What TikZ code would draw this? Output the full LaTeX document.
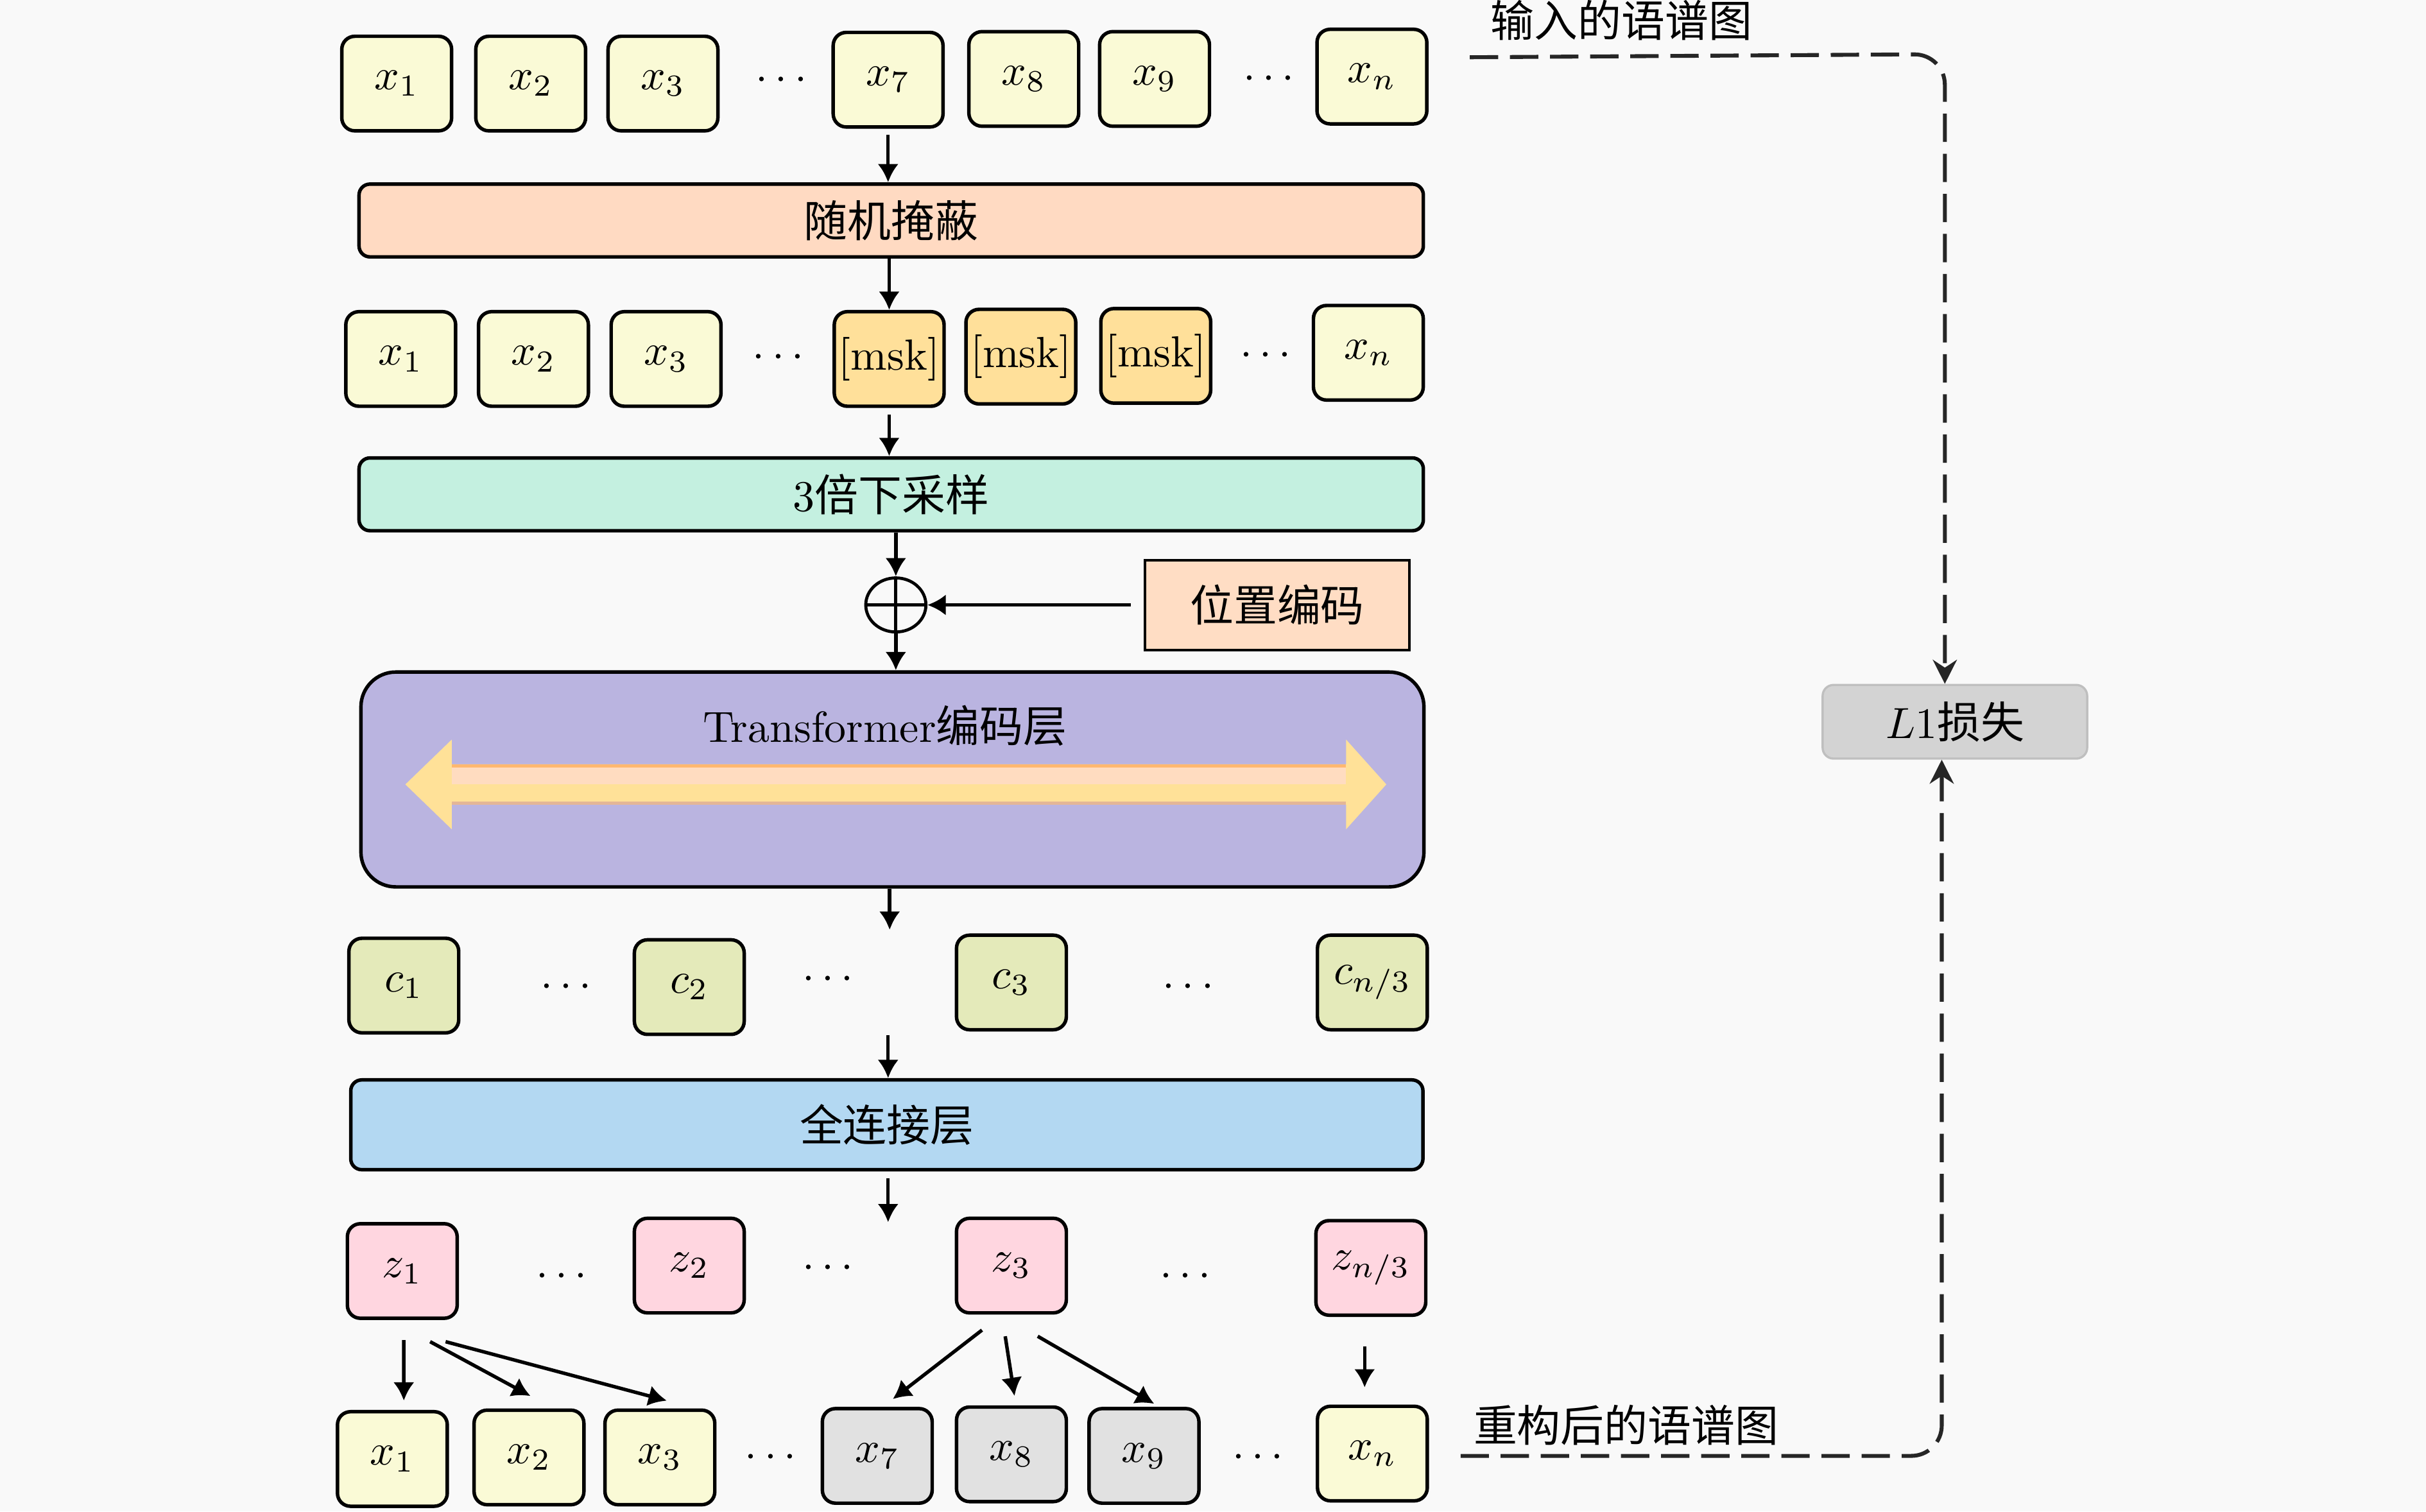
\documentclass[tikz,border=0pt]{standalone}
\usepackage{fontspec}
\newfontfamily\zhfont{Noto Sans CJK SC}
\usepackage{xcolor}
\usetikzlibrary{arrows.meta, shapes.geometric, calc}

\definecolor{bgGray}{RGB}{249,249,249}
\definecolor{tokYellow}{RGB}{250,250,214}
\definecolor{mskOrange}{RGB}{255,224,154}
\definecolor{maskPeach}{RGB}{255,218,194}
\definecolor{downMint}{RGB}{196,240,224}
\definecolor{posPeach}{RGB}{255,221,196}
\definecolor{encPurple}{RGB}{186,180,224}
\definecolor{cOlive}{RGB}{228,234,186}
\definecolor{fcBlue}{RGB}{179,216,242}
\definecolor{zPink}{RGB}{255,214,224}
\definecolor{recGray}{RGB}{225,225,225}
\definecolor{lossGray}{RGB}{211,211,211}
\definecolor{biYellow}{RGB}{255,225,152}
\definecolor{biPeach}{RGB}{255,220,192}
\definecolor{biEdgeTop}{RGB}{255,184,112}
\definecolor{biEdgeBot}{RGB}{228,182,150}

\tikzset{
  tok/.style={draw, line width=0.8pt, rounded corners=3pt, minimum width=25.2pt, minimum height=21.7pt, inner sep=0pt},
  bar/.style={draw, line width=0.8pt, rounded corners=2.5pt, minimum width=244.2pt, minimum height=16.7pt, inner sep=0pt},
  arr/.style={line width=0.8pt, -{Latex[length=4.2pt,width=4.8pt]}},
  dashline/.style={line width=0.9pt, black!85, dash pattern=on 6.5pt off 2.7pt, rounded corners=7pt, -{Stealth[length=5.5pt,width=5.5pt]}},
}

\begin{document}
\begin{tikzpicture}[x=0.355pt,y=0.355pt,yscale=-1,xscale=1]
    \useasboundingbox (0,0) rectangle (1568,977);
    \fill[bgGray] (0,0) rectangle (1568,977);

    % Input spectrogram
    \node[tok, fill=tokYellow] (in1) at (256.4,54) {$x_1$};
    \node[tok, fill=tokYellow] (in2) at (343,54) {$x_2$};
    \node[tok, fill=tokYellow] (in3) at (428.5,54) {$x_3$};
    \node (inDotsA) at (505,52) {$\cdots$};
    \node[tok, fill=tokYellow] (in7) at (574,51.5) {$x_7$};
    \node[tok, fill=tokYellow] (in8) at (661.7,51) {$x_8$};
    \node[tok, fill=tokYellow] (in9) at (746.2,51) {$x_9$};
    \node (inDotsB) at (820,51) {$\cdots$};
    \node[tok, fill=tokYellow] (inN) at (886.7,49.5) {$x_n$};

    % Text Node
    \node[bar, fill=maskPeach] (rmask) at (576,142.5) {\zhfont 随机掩蔽};

    % Masked row
    \node[tok, fill=tokYellow] (m1) at (259,232) {$x_1$};
    \node[tok, fill=tokYellow] (m2) at (344.8,232) {$x_2$};
    \node[tok, fill=tokYellow] (m3) at (430.5,232) {$x_3$};
    \node (mDotsA) at (503,231) {$\cdots$};
    \node[tok, fill=mskOrange] (mask7) at (574.7,232) {[msk]};
    \node[tok, fill=mskOrange] (mask8) at (659.8,230.5) {[msk]};
    \node[tok, fill=mskOrange] (mask9) at (747,230) {[msk]};
    \node (mDotsB) at (818,230) {$\cdots$};
    \node[tok, fill=tokYellow] (mN) at (884.4,228) {$x_n$};

    % Text Node
    \node[bar, fill=downMint] (down) at (576,319.5) {3\zhfont 倍下采样};
    \node[draw, line width=0.6pt, fill=posPeach, minimum width=60.7pt, minimum height=20.6pt] (pos) at (825.5,391) {\zhfont 位置编码};
    \node[ellipse, draw, line width=0.7pt, minimum width=13.8pt, minimum height=12.4pt, inner sep=0pt] (add) at (579,391) {};
    \draw[line width=0.7pt] (add.north) -- (add.south) (add.west) -- (add.east);

    % Encoder
    \node[draw, line width=0.8pt, fill=encPurple, rounded corners=8pt, minimum width=243.9pt, minimum height=49.3pt] (enc) at (576.8,503.8) {};
    \node (encTxt) at (572,469) {Transformer\zhfont 编码层};
    \fill[biYellow] (262,507) -- (292,478) -- (292,494) -- (870,494) -- (870,478) -- (896,507) -- (870,536) -- (870,520) -- (292,520) -- (292,536) -- cycle;
    \fill[biPeach] (292,496) rectangle (870,507);
    \draw[biEdgeTop, line width=0.8pt] (292,495) -- (870,495);
    \draw[biEdgeBot, line width=0.8pt] (292,519) -- (870,519);

    % Encoder outputs
    \node[tok, fill=cOlive] (c1) at (261,637) {$c_1$};
    \node (cDotsA) at (366,638) {$\cdots$};
    \node[tok, fill=cOlive] (c2) at (445.5,638) {$c_2$};
    \node (cDotsB) at (535,633) {$\cdots$};
    \node[tok, fill=cOlive] (c3) at (653.7,635) {$c_3$};
    \node (cDotsC) at (768,638) {$\cdots$};
    \node[tok, fill=cOlive] (cN) at (887,635) {$c_{n/3}$};

    % Text Node
    \node[bar, fill=fcBlue, minimum width=246pt, minimum height=20.6pt] (fc) at (573.2,727) {\zhfont 全连接层};

    % Projected row
    \node[tok, fill=zPink] (z1) at (260,821.5) {$z_1$};
    \node (zDotsA) at (363,825) {$\cdots$};
    \node[tok, fill=zPink] (z2) at (445.5,818) {$z_2$};
    \node (zDotsB) at (535,820) {$\cdots$};
    \node[tok, fill=zPink] (z3) at (653.7,818) {$z_3$};
    \node (zDotsC) at (766,825) {$\cdots$};
    \node[tok, fill=zPink] (zN) at (886,819.5) {$z_{n/3}$};

    % Reconstructed spectrogram
    \node[tok, fill=tokYellow] (out1) at (253.6,943) {$x_1$};
    \node[tok, fill=tokYellow] (out2) at (341.9,942) {$x_2$};
    \node[tok, fill=tokYellow] (out3) at (426.5,942) {$x_3$};
    \node (outDotsA) at (498,942) {$\cdots$};
    \node[tok, fill=recGray] (out7) at (567,941) {$x_7$};
    \node[tok, fill=recGray] (out8) at (653.7,940) {$x_8$};
    \node[tok, fill=recGray] (out9) at (739.4,941) {$x_9$};
    \node (outDotsB) at (813,942) {$\cdots$};
    \node[tok, fill=tokYellow] (outN) at (887,939.5) {$x_n$};

    % Loss
    \node[draw=black!25, line width=0.5pt, fill=lossGray, rounded corners=2.5pt, minimum width=60.7pt, minimum height=16.9pt] (loss) at (1263.5,466.5) {$L1$\zhfont 损失};
    \node (inLbl) at (1048,13) {\zhfont 输入的语谱图};
    \node (outLbl) at (1051,921) {\zhfont 重构后的语谱图};

    % Connection
    \draw[arr, shorten <=1.4pt] (in7.south) -- (in7.south |- rmask.north);
    \draw[arr] (mask7.north |- rmask.south) -- (mask7.north);
    \draw[arr, shorten <=1.5pt] (mask7.south) -- (mask7.south |- down.north);
    \draw[arr] (add.north |- down.south) -- (add.north);
    \draw[arr, shorten <=3pt] (pos.west) -- (add.east);
    \draw[arr] (add.south) -- (add.south |- enc.north);
    \coordinate (encOut) at (575,601);
    \draw[arr] (encOut |- enc.south) -- (encOut);
    \coordinate (fcIn) at (574,669);
    \draw[arr] (fcIn) -- (fcIn |- fc.north);
    \coordinate (fcOut) at (574,790);
    \draw[arr, shorten <=1.5pt] (fcOut |- fc.south) -- (fcOut);

    % Connection
    \draw[arr] ($(z1.south)+(1,13)$) -- ($(out1.north)+(7.4,-6)$);
    \draw[arr] ($(z1.south)+(18,14)$) -- ($(out2.north)+(1,-8)$);
    \draw[arr] ($(z1.south)+(28,14)$) -- ($(out3.north)+(4.5,-5)$);
    \draw[arr] ($(z3.south)+(-19,10)$) -- ($(out7.north)+(10,-5)$);
    \draw[arr] ($(z3.south)+(-4,14)$) -- ($(out8.north)+(2,-6)$);
    \draw[arr] ($(z3.south)+(17,14)$) -- ($(out9.north)+(6.6,-2)$);
    \draw[arr] ($(zN.south)+(-4,19)$) -- ($(outN.north)+(-5,-11)$);

    % Dashed loss paths
    \coordinate (inTap) at (950,37);
    \coordinate (inBend) at (1257,35);
    \draw[dashline] (inTap) -- (inBend) -- (inBend |- loss.north);
    \coordinate (outTap) at (944,941);
    \coordinate (outBend) at (1255,941);
    \draw[dashline] (outTap) -- (outBend) -- (outBend |- loss.south);

\end{tikzpicture}
\end{document}
